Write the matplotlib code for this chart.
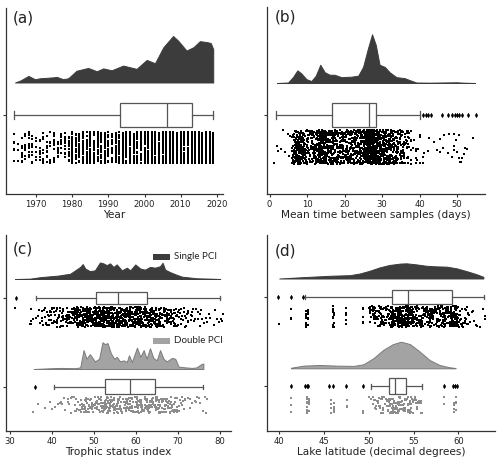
import numpy as np
import matplotlib
matplotlib.use("Agg")
import matplotlib.pyplot as plt
from matplotlib.patches import Rectangle

# ------------------------------------------------------------------ data
# (a) Year
a_dens_x = [1964.2, 1965.6, 1967.9, 1969.7, 1971.1, 1973.0, 1974.8, 1975.7, 1977.5,
            1978.9, 1981.2, 1984.4, 1986.8, 1988.6, 1990.9, 1994.1, 1997.8, 2000.6,
            2002.9, 2005.2, 2007.9, 2009.3, 2011.6, 2013.5, 2015.3, 2017.2, 2018.3, 2019.0]
a_dens_h = [0.0, 0.04, 0.14, 0.07, 0.09, 0.10, 0.11, 0.12, 0.07,
            0.09, 0.25, 0.31, 0.24, 0.30, 0.26, 0.36, 0.29, 0.48,
            0.41, 0.75, 0.99, 0.89, 0.68, 0.75, 0.88, 0.86, 0.84, 0.71]
a_box = dict(whislo=1964.0, q1=1993.2, med=2006.1, q3=2013.2, whishi=2019.0, fliers=[])
a_years = list(range(1964, 2020))
a_counts = [6, 5, 8, 10, 14, 12, 9, 10, 10, 11, 10, 12, 10, 9, 11,
            22, 28, 30, 30, 32, 33, 30, 27, 30, 33, 30, 30, 32, 34, 35, 36, 34, 33, 32, 34, 36,
            42, 45, 40, 50, 60, 70, 78, 80, 82, 78, 70, 62, 64, 66, 68, 72, 74, 72, 72, 70]

# (b) Mean time between samples (days)
b_dens_x = [1.96, 4.9, 6.2, 7.4, 8.4, 9.8, 11.1, 12.3, 13.5, 14.7, 16.0, 17.3, 19.1, 21.8,
            23.6, 24.9, 26.2, 27.3, 28.3, 29.3, 30.7, 32.0, 33.8, 36.0, 37.3, 39.1, 42.7,
            49.8, 51.6, 54.7]
b_dens_h = [0.0, 0.01, 0.12, 0.26, 0.20, 0.08, 0.04, 0.15, 0.375, 0.22, 0.17, 0.17, 0.12, 0.13,
            0.15, 0.33, 0.71, 1.0, 0.78, 0.375, 0.33, 0.22, 0.12, 0.10, 0.06, 0.01, 0.007,
            0.015, 0.007, 0.0]
b_box = dict(whislo=1.8, q1=16.5, med=26.4, q3=28.3, whishi=40.2,
             fliers=[40.9, 41.6, 42.3, 43.1, 46.0, 47.5, 48.5, 49.3, 50.0, 50.6, 51.3, 52.9, 55.0])
b_bins = list(range(1, 55))
b_counts = [1, 2, 2, 2, 3, 40, 70, 55, 40, 30, 30, 40, 80, 55, 45, 45, 45, 40, 40, 40,
            38, 35, 45, 55, 80, 140, 160, 90, 60, 55, 45, 40, 35, 30, 25, 18, 10, 5, 4, 3,
            2, 2, 1, 1, 2, 2, 2, 1, 4, 5, 3, 1, 0, 1]

# (c) Trophic status index, single / double PCI
c1_dens_x = [31.2, 34.8, 37.1, 39.5, 41.5, 43.1, 44.3, 45.5, 46.7, 47.3, 47.9, 49.0, 50.2,
             51.4, 52.2, 53.0, 53.8, 54.6, 55.4, 56.6, 57.8, 58.6, 59.8, 61.0, 62.1, 63.3,
             64.5, 65.7, 66.3, 66.9, 68.1, 69.7, 70.9, 72.1, 74.4, 77.6, 80.0]
c1_dens_h = [0.0, 0.02, 0.10, 0.15, 0.19, 0.25, 0.29, 0.48, 0.67, 0.83, 0.58, 0.44, 0.48,
             0.92, 0.87, 0.77, 0.87, 0.67, 0.81, 0.48, 0.63, 0.48, 0.81, 0.58, 0.52, 0.67,
             0.63, 0.71, 0.90, 0.52, 0.38, 0.23, 0.13, 0.10, 0.04, 0.02, 0.0]
c1_box = dict(whislo=36.2, q1=50.5, med=55.8, q3=62.7, whishi=80.0, fliers=[31.4])
c1_bins = list(range(31, 81))
c1_counts = [1, 0, 0, 2, 3, 3, 6, 8, 10, 10, 12, 14, 16, 18, 22, 28, 35, 32, 30, 32,
             38, 40, 40, 38, 36, 34, 32, 30, 30, 32, 28, 26, 26, 25, 24, 24, 18, 14, 12, 10,
             8, 6, 5, 4, 4, 3, 2, 2, 2, 3]

c2_dens_x = [35.6, 39.9, 42.3, 45.5, 46.7, 47.5, 48.2, 49.0, 50.2, 51.2, 52.0, 52.6, 53.2,
             54.0, 54.8, 55.4, 56.2, 57.0, 57.8, 58.3, 59.0, 60.2, 61.0, 61.8, 62.5, 63.3,
             64.1, 64.9, 65.7, 66.5, 67.3, 68.5, 69.3, 70.1, 71.7, 73.3, 74.4, 75.2, 75.6, 76.0]
c2_dens_h = [0.0, 0.03, 0.04, 0.03, 0.06, 0.70, 0.38, 0.55, 0.28, 0.38, 0.99, 0.92, 0.96,
             0.58, 0.38, 0.45, 0.28, 0.32, 0.26, 0.51, 0.26, 0.79, 0.45, 0.70, 0.38, 0.77,
             0.41, 0.32, 0.70, 0.38, 0.28, 0.41, 0.38, 0.09, 0.06, 0.04, 0.06, 0.15, 0.19, 0.2]
c2_box = dict(whislo=40.5, q1=52.7, med=58.6, q3=64.4, whishi=75.8, fliers=[35.9])
c2_bins = list(range(35, 77))
c2_counts = [1, 1, 0, 1, 2, 1, 2, 3, 3, 4, 5, 8, 14, 12, 12, 12, 15, 20, 22, 16, 14,
             12, 14, 14, 14, 16, 16, 16, 16, 14, 14, 14, 12, 12, 10, 6, 4, 3, 2, 2, 3, 3]

# (d) Lake latitude (decimal degrees), single / double PCI
d1_dens_x = [40.0, 42.7, 45.7, 47.9, 49.0, 50.1, 51.2, 52.3, 53.5, 54.2, 55.3, 56.4, 57.5,
             58.7, 59.8, 60.9, 62.0, 62.8]
d1_dens_h = [0.0, 0.09, 0.18, 0.22, 0.33, 0.51, 0.73, 0.89, 0.98, 1.0, 0.93, 0.84, 0.80,
             0.78, 0.67, 0.49, 0.29, 0.11]
d1_box = dict(whislo=42.9, q1=52.6, med=54.4, q3=59.3, whishi=62.9, fliers=[39.9, 41.3, 42.6])
d1_lakes = [40.0, 41.3, 43.0, 43.2, 46.0, 46.1, 47.5, 49.4]
d1_lake_counts = [1, 3, 10, 8, 8, 4, 5, 6]
d1_bins = [50.0, 50.5, 51.0, 51.5, 52.0, 52.5, 53.0, 53.5, 54.0, 54.5, 55.0, 55.5, 56.0,
           56.5, 57.0, 57.5, 58.0, 58.5, 59.0, 59.5, 60.0, 60.5, 61.0, 61.5, 62.0, 62.5]
d1_counts = [12, 20, 22, 18, 20, 45, 50, 45, 50, 45, 25, 22, 20, 25, 22, 25, 22, 28, 40,
             35, 12, 8, 6, 4, 2, 3]

d2_dens_x = [41.3, 42.7, 44.5, 46.4, 48.3, 49.4, 50.5, 51.6, 52.7, 53.6, 54.6, 55.7, 56.8,
             57.9, 59.0, 59.7]
d2_dens_h = [0.02, 0.10, 0.125, 0.10, 0.09, 0.15, 0.375, 0.69, 0.91, 1.0, 0.91, 0.625,
             0.31, 0.125, 0.04, 0.01]
d2_box = dict(whislo=50.2, q1=52.3, med=52.9, q3=54.2, whishi=55.9,
              fliers=[41.3, 42.9, 43.1, 43.2, 45.5, 46.0, 47.5, 49.4, 58.4, 59.4, 59.6, 59.8])
d2_lakes = [41.3, 43.1, 43.3, 45.8, 46.1, 47.6, 49.4, 58.4, 59.5, 59.7]
d2_lake_counts = [3, 10, 6, 4, 6, 3, 2, 2, 6, 4]
d2_bins = [50.0, 50.5, 51.0, 51.5, 52.0, 52.5, 53.0, 53.5, 54.0, 54.5, 55.0, 55.5]
d2_counts = [4, 8, 10, 10, 14, 24, 22, 12, 16, 18, 8, 8]

# ------------------------------------------------------------------ style
W, H = 500, 462
DARK = '#3c3c3c'
LIGHT = '#a3a3a3'
LINE = '#555555'
TXT = '#222222'

fig = plt.figure(figsize=(W / 100, H / 100), dpi=100)


def make_ax(x0, ytop, x1, ybot, xlim, xticks, xlabel):
    ax = fig.add_axes([x0 / W, 1 - ybot / H, (x1 - x0) / W, (ybot - ytop) / H])
    ax.set_xlim(*xlim)
    ax.set_ylim(ybot, ytop)          # y in pixel units, downward
    for s in ('top', 'right'):
        ax.spines[s].set_visible(False)
    for s in ('left', 'bottom'):
        ax.spines[s].set_color('#333333')
        ax.spines[s].set_linewidth(0.9)
    ax.set_xticks(xticks)
    ax.tick_params(axis='x', labelsize=6.1, length=2.5, width=0.8, pad=1.5,
                   colors='#333333', labelcolor=TXT)
    ax.tick_params(axis='y', length=2, width=0.8, colors='#333333')
    ax.set_xlabel(xlabel, fontsize=7.6, color=TXT, labelpad=1.0)
    return ax


def cloud(ax, xs, hs, base, height, fc, ec):
    xs = np.asarray(xs, float)
    hs = np.asarray(hs, float)
    ax.fill_between(xs, base - hs * height, base, facecolor=fc, edgecolor=ec,
                    linewidth=0.7, zorder=2)


def box(ax, stats, pos, h):
    ax.bxp([stats], positions=[pos], widths=h, orientation='horizontal',
           patch_artist=True, showfliers=True, manage_ticks=False, capwidths=h * 0.3,
           boxprops=dict(facecolor='white', edgecolor=LINE, linewidth=0.9),
           medianprops=dict(color=LINE, linewidth=0.9),
           whiskerprops=dict(color=LINE, linewidth=0.9),
           capprops=dict(color=LINE, linewidth=0.9),
           flierprops=dict(marker='d', markerfacecolor='black', markeredgecolor='black',
                           markersize=2.3, markeredgewidth=0.3))


counter = [0]


def hash01(i, salt):
    # deterministic scrambled jitter in [0, 1)
    v = np.sin(i * 12.9898 + salt * 78.233) * 43758.5453
    return v - np.floor(v)


def rain(ax, xs, counts, width, y0, y1, color):
    px, py = [], []
    i = counter[0]
    for x, n in zip(xs, counts):
        for _ in range(n):
            i += 1
            px.append(x + hash01(i, 1.0) * width)
            py.append(y0 + hash01(i, 2.0) * (y1 - y0))
    counter[0] = i
    ax.scatter(px, py, s=1.4, marker='s', c=color, linewidths=0, zorder=1)


def panel_label(ax, fx, fy, s):
    ax.text(fx, fy, s, transform=ax.transAxes, fontsize=11, color=TXT,
            ha='left', va='center')


# ------------------------------------------------------------------ (a)
ax = make_ax(6, 8, 223, 194.3, (1961.7, 2021.7), [1970, 1980, 1990, 2000, 2010, 2020], 'Year')
cloud(ax, a_dens_x, a_dens_h, 82.5, 47, DARK, DARK)
box(ax, a_box, 115, 24.6)
rain(ax, a_years, a_counts, 0.0, 131.7, 163.3, 'black')
ax.set_yticks([115])
ax.set_yticklabels([''])
panel_label(ax, 0.032, 0.949, '(a)')

# ------------------------------------------------------------------ (b)
ax = make_ax(267, 7, 485, 194.3, (-0.7, 57.4), [0, 10, 20, 30, 40, 50],
             'Mean time between samples (days)')
cloud(ax, b_dens_x, b_dens_h, 83, 48.7, DARK, DARK)
box(ax, b_box, 115, 24.6)
rain(ax, b_bins, b_counts, 1.0, 130, 164, 'black')
ax.set_yticks([115])
ax.set_yticklabels([''])
panel_label(ax, 0.037, 0.944, '(b)')

# ------------------------------------------------------------------ (c)
ax = make_ax(6, 235, 230.7, 431, (29.05, 82.5), [30, 40, 50, 60, 70, 80], 'Trophic status index')
cloud(ax, c1_dens_x, c1_dens_h, 279, 18, DARK, DARK)
box(ax, c1_box, 297.9, 12.5)
rain(ax, c1_bins, c1_counts, 1.0, 307, 327, 'black')
cloud(ax, c2_dens_x, c2_dens_h, 369, 27, LIGHT, '#7a7a7a')
box(ax, c2_box, 386.8, 15)
rain(ax, c2_bins, c2_counts, 1.0, 396.7, 413.3, '#8c8c8c')
ax.set_yticks([297.9, 386.8])
ax.set_yticklabels(['', ''])
panel_label(ax, 0.032, 0.929, '(c)')
for fy, fc, lab in ((0.903, DARK, 'Single PCI'), (0.476, LIGHT, 'Double PCI')):
    ax.add_patch(Rectangle((0.654, fy - 0.031), 0.076, 0.031, transform=ax.transAxes,
                           facecolor=fc, edgecolor='none'))
    ax.text(0.748, fy - 0.015, lab, transform=ax.transAxes, fontsize=7,
            family=['Lato', 'DejaVu Sans'], color=TXT, ha='left', va='center')

# ------------------------------------------------------------------ (d)
ax = make_ax(267.3, 235, 495, 431, (38.66, 64.1), [40, 45, 50, 55, 60],
             'Lake latitude (decimal degrees)')
cloud(ax, d1_dens_x, d1_dens_h, 278.5, 15.2, DARK, DARK)
box(ax, d1_box, 297, 14)
rain(ax, d1_lakes, d1_lake_counts, 0.0, 306, 327, 'black')
rain(ax, d1_bins, d1_counts, 0.5, 306, 327, 'black')
cloud(ax, d2_dens_x, d2_dens_h, 368.3, 26.6, LIGHT, '#7a7a7a')
box(ax, d2_box, 386.2, 15.7)
rain(ax, d2_lakes, d2_lake_counts, 0.0, 396.7, 413.3, '#8c8c8c')
rain(ax, d2_bins, d2_counts, 0.5, 396.7, 413.3, '#8c8c8c')
ax.set_yticks([297, 386.2])
ax.set_yticklabels(['', ''])
panel_label(ax, 0.034, 0.919, '(d)')

fig.savefig('out.png', dpi=100)
